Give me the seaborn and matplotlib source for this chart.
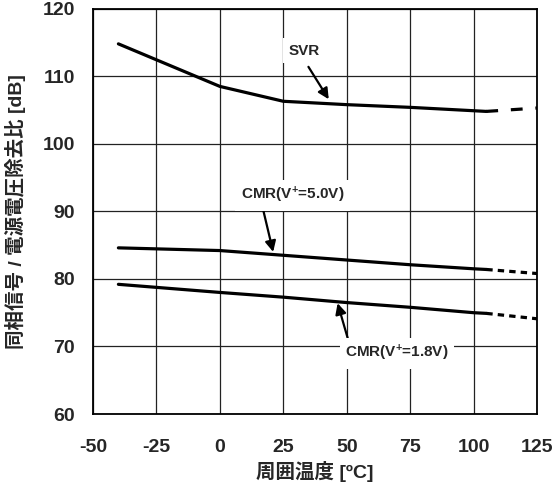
import matplotlib
matplotlib.use("Agg")
import matplotlib.pyplot as plt
import seaborn as sns
import pandas as pd

# Measured curves (solid part of each curve: -40 to 105 degC)
temp = [-40, 0, 25, 50, 75, 100, 105]
svr = [114.8, 108.5, 106.3, 105.8, 105.4, 104.9, 104.8]
cmr_5v0 = [84.6, 84.2, 83.5, 82.8, 82.1, 81.5, 81.4]
cmr_1v8 = [79.2, 78.0, 77.3, 76.5, 75.8, 75.0, 74.9]

# Extrapolated parts (105 to 125 degC)
temp_ext = [105, 125]
svr_ext = [104.8, 105.3]
cmr_5v0_ext = [81.4, 80.8]
cmr_1v8_ext = [74.9, 74.1]

x_ticks = [-50, -25, 0, 25, 50, 75, 100, 125]
y_ticks = [60, 70, 80, 90, 100, 110, 120]

sns.set_theme(style="white")
plt.rcParams["font.family"] = ["Liberation Sans", "Noto Sans CJK JP"]
plt.rcParams["font.weight"] = "bold"
plt.rcParams["mathtext.fontset"] = "custom"
plt.rcParams["mathtext.rm"] = "Liberation Sans:bold"
plt.rcParams["mathtext.bf"] = "Liberation Sans:bold"
plt.rcParams["mathtext.default"] = "bf"

fig = plt.figure(figsize=(5.56, 4.88), dpi=100)
ax = fig.add_axes([0.1673, 0.1516, 0.7986, 0.8305])

solid = pd.DataFrame({
    "temp": temp * 3,
    "value": svr + cmr_5v0 + cmr_1v8,
    "curve": ["SVR"] * len(temp) + ["CMR5"] * len(temp) + ["CMR18"] * len(temp),
})
sns.lineplot(data=solid, x="temp", y="value", units="curve", estimator=None,
             color="black", lw=2.3, ax=ax, legend=False)

svr_tail = pd.DataFrame({"temp": temp_ext, "value": svr_ext})
sns.lineplot(data=svr_tail, x="temp", y="value", color="black", lw=2.3,
             ax=ax).lines[-1].set_dashes([3.7, 4.0])
for vals in (cmr_5v0_ext, cmr_1v8_ext):
    tail = pd.DataFrame({"temp": temp_ext, "value": vals})
    sns.lineplot(data=tail, x="temp", y="value", color="black", lw=2.3,
                 ax=ax).lines[-1].set_dashes([2.0, 1.6])

ax.set_xlim(-50, 125)
ax.set_ylim(60, 120)
ax.set_xticks(x_ticks)
ax.set_yticks(y_ticks)
ax.set_xticklabels([str(v) for v in x_ticks])
ax.set_yticklabels([str(v) for v in y_ticks])
ax.tick_params(axis="both", length=0, labelsize=14)
ax.tick_params(axis="x", pad=18)
ax.tick_params(axis="y", pad=13)
for lab in ax.get_xticklabels() + ax.get_yticklabels():
    lab.set_fontweight("bold")

ax.grid(True, color="#222222", lw=0.9)
ax.set_axisbelow(True)
for sp in ax.spines.values():
    sp.set_color("black")
    sp.set_linewidth(1.3)

ax.set_xlabel("周囲温度 [ºC]", fontsize=14, fontweight="bold")
ax.set_ylabel("同相信号 / 電源電圧除去比 [dB]", fontsize=14, fontweight="bold")
ax.xaxis.set_label_coords(0.5, -0.115)
ax.yaxis.set_label_coords(-0.15, 0.5)

arrow = dict(arrowstyle="-|>", color="black", lw=1.6, mutation_scale=16,
             shrinkA=0, shrinkB=0)
box = dict(fc="white", ec="none", pad=4)
ax.annotate("", xy=(42.9, 106.6), xytext=(34.9, 111.4), arrowprops=arrow)
ax.text(33.3, 113.8, "SVR", ha="center", va="center", fontsize=11,
        fontweight="bold", bbox=box)
ax.annotate("", xy=(21.0, 84.0), xytext=(16.7, 90.8), arrowprops=arrow)
ax.text(28.6, 92.4, "CMR(V$^{+}$=5.0V)", ha="center", va="center",
        fontsize=11, fontweight="bold", bbox=box)
ax.annotate("", xy=(46.4, 76.4), xytext=(50.4, 71.2), arrowprops=arrow)
ax.text(69.8, 69.0, "CMR(V$^{+}$=1.8V)", ha="center", va="center",
        fontsize=11, fontweight="bold", bbox=box)

fig.savefig("out.png", dpi=100)
